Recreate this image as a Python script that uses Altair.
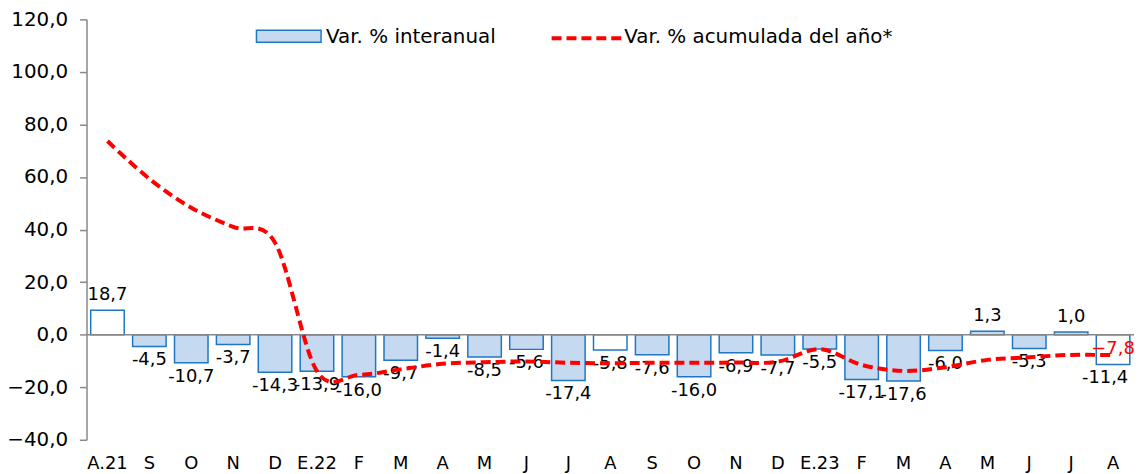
import altair as alt
import pandas as pd

categories = ["A.21", "S", "O", "N", "D", "E.22", "F", "M", "A", "M", "J", "J", "A",
              "S", "O", "N", "D", "E.23", "F", "M", "A", "M", "J", "J", "A"]
# bar heights as drawn in the picture
bar_values = [9.3, -4.5, -10.7, -3.7, -14.3, -13.9, -16.0, -9.7, -1.4, -8.5, -5.6, -17.4, -5.8,
              -7.6, -16.0, -6.9, -7.7, -5.5, -17.1, -17.6, -6.0, 1.3, -5.3, 1.0, -11.4]
# value labels printed on the bars
bar_labels = ["18,7", "-4,5", "-10,7", "-3,7", "-14,3", "-13,9", "-16,0", "-9,7", "-1,4", "-8,5",
              "-5,6", "-17,4", "-5,8", "-7,6", "-16,0", "-6,9", "-7,7", "-5,5", "-17,1", "-17,6",
              "-6,0", "1,3", "-5,3", "1,0", "-11,4"]
hollow_bars = [0, 12, 24]
acumulada = [73.7, 59.3, 48.3, 41.0, 35.0, -13.9, -15.3, -13.2, -11.1, -10.5, -10.2, -10.7, -10.9,
             -10.7, -10.7, -10.6, -10.3, -5.5, -11.5, -13.8, -12.4, -9.6, -8.6, -7.7, -7.8]

FONT = "DejaVu Sans"
BLUE_FILL = "#C5D9F1"
BLUE_EDGE = "#1F77C4"
RED = "#FF0000"
GRAY = "#888888"
LAST = len(categories) - 1

df = pd.DataFrame({
    "i": list(range(len(categories))),
    "cat": categories,
    "bar": bar_values,
    "label": bar_labels,
    "acum": acumulada,
    "hollow": [k in hollow_bars for k in range(len(categories))],
})

label_array = "[" + ",".join("'" + c + "'" for c in categories) + "]"

x_enc = alt.X(
    "i:O",
    scale=alt.Scale(paddingInner=0.2, paddingOuter=0.1),
    axis=alt.Axis(
        title=None, labelAngle=0, domain=False, ticks=False, labelPadding=15,
        labelFontSize=18, labelFont=FONT, labelColor="#000000",
        labelExpr=label_array + "[datum.value]",
    ),
)

y_scale = alt.Scale(domain=[-40, 120], nice=False, zero=False)
y_axis = alt.Axis(
    title=None, grid=False, values=list(range(-40, 121, 20)),
    labelExpr="replace(format(datum.value, '.1f'), '.', ',')",
    labelFontSize=20, labelFont=FONT, labelColor="#000000",
    tickSize=7, labelPadding=12, domainColor=GRAY, tickColor=GRAY,
    domainWidth=1.5, tickWidth=1.5,
)

base = alt.Chart(df)

bars = base.mark_bar(stroke=BLUE_EDGE, strokeWidth=1.5).encode(
    x=x_enc,
    y=alt.Y("bar:Q", scale=y_scale, axis=y_axis),
    fill=alt.condition("datum.hollow", alt.value("white"), alt.value(BLUE_FILL)),
)

zero = alt.Chart(pd.DataFrame({"z": [0]})).mark_rule(color=GRAY, strokeWidth=1.5).encode(
    y=alt.Y("z:Q", scale=y_scale, axis=y_axis)
)

lab_pos = base.transform_filter("datum.bar >= 0").mark_text(
    font=FONT, fontSize=18, dy=-15, baseline="middle", color="#000000"
).encode(x=x_enc, y=alt.Y("bar:Q", scale=y_scale, axis=y_axis), text="label:N")

lab_neg = base.transform_filter("datum.bar < 0 && datum.i < %d" % LAST).mark_text(
    font=FONT, fontSize=18, dy=14, baseline="middle", color="#000000"
).encode(x=x_enc, y=alt.Y("bar:Q", scale=y_scale, axis=y_axis), text="label:N")

lab_last = base.transform_filter("datum.i == %d" % LAST).mark_text(
    font=FONT, fontSize=18, dy=14, dx=-8, baseline="middle", color="#000000"
).encode(x=x_enc, y=alt.Y("bar:Q", scale=y_scale, axis=y_axis), text="label:N")

line = base.mark_line(
    color=RED, strokeWidth=4, strokeDash=[10, 5], interpolate="cardinal"
).encode(x=x_enc, y=alt.Y("acum:Q", scale=y_scale, axis=y_axis))

last_lab = base.transform_filter(
    "datum.i == %d" % LAST
).transform_calculate(
    t="replace(format(datum.acum, '.1f'), '.', ',')"
).mark_text(font=FONT, fontSize=18, dy=-6, baseline="middle", color=RED).encode(
    x=x_enc, y=alt.Y("acum:Q", scale=y_scale, axis=y_axis), text="t:N"
)

one = pd.DataFrame({"a": [0]})
leg_rect = alt.Chart(one).mark_rect(fill=BLUE_FILL, stroke=BLUE_EDGE, strokeWidth=1.5).encode(
    x=alt.value(171), x2=alt.value(236), y=alt.value(11), y2=alt.value(23)
)
leg_text1 = alt.Chart(one).mark_text(
    font=FONT, fontSize=20, align="left", baseline="middle", color="#000000"
).encode(x=alt.value(241), y=alt.value(18), text=alt.value("Var. % interanual"))
leg_line = alt.Chart(one).mark_rule(color=RED, strokeWidth=4, strokeDash=[10, 5]).encode(
    x=alt.value(468), x2=alt.value(538), y=alt.value(19)
)
leg_text2 = alt.Chart(one).mark_text(
    font=FONT, fontSize=20, align="left", baseline="middle", color="#000000"
).encode(x=alt.value(541), y=alt.value(18), text=alt.value("Var. % acumulada del año*"))

chart = alt.layer(
    bars, zero, lab_pos, lab_neg, lab_last, line, last_lab,
    leg_rect, leg_text1, leg_line, leg_text2
).properties(
    width=1054, height=423,
    padding={"left": 79, "top": 10, "right": 0, "bottom": 32},
    autosize=alt.AutoSizeParams(type="none"),
).configure_view(stroke=None)

chart.save("out.html", embed_options={"renderer": "svg", "actions": False})
